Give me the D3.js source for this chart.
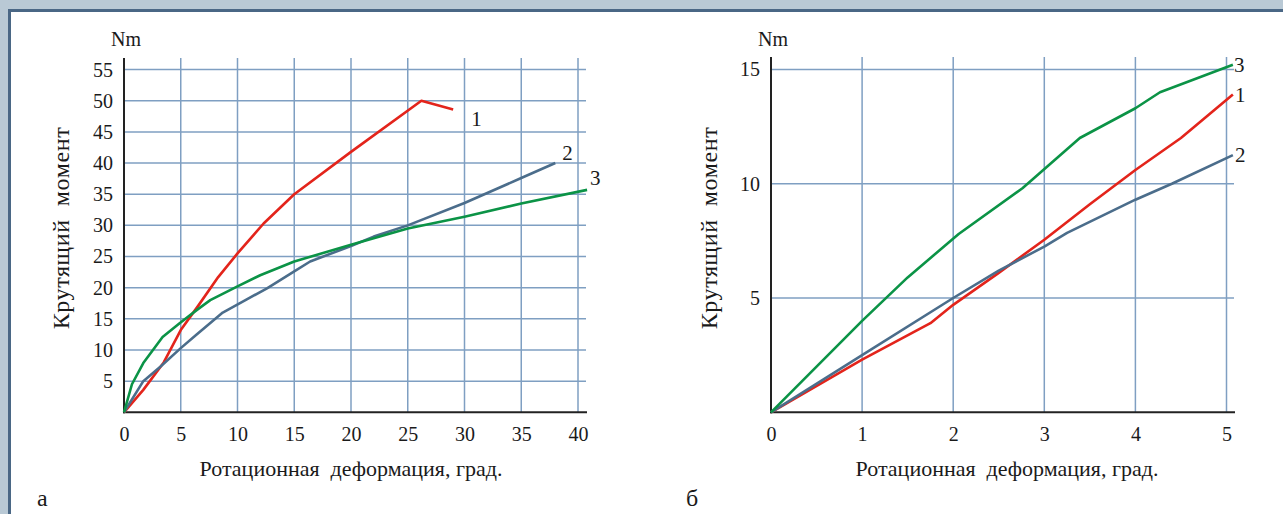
<!DOCTYPE html>
<html><head><meta charset="utf-8">
<script src="https://cdn.jsdelivr.net/npm/d3@7"></script>
<style>
html,body{margin:0;padding:0;background:#b9c9d5;}
svg{display:block;}
text{font-family:"Liberation Serif","Times New Roman",serif;fill:#1a1a1a;}
</style></head>
<body>
<svg id="c" width="1283" height="514"></svg>
<script>
// ---- data ----
const xTicksA = [0,5,10,15,20,25,30,35,40];
const yTicksA = [5,10,15,20,25,30,35,40,45,50,55];
const xTicksB = [0,1,2,3,4,5];
const yTicksB = [5,10,15];
const seriesNames = ["1","2","3"];
// Chart а
const a1 = [[0,0],[1.7,3.6],[3.5,8],[5,13.2],[6.5,17],[8.3,21.7],[10,25.5],[12.3,30.3],[15,35],[20,41.8],[26.2,50],[29,48.6]];
const a2 = [[0,0],[1.7,5],[3.2,7.3],[5,10.3],[6.4,12.5],[8.7,16],[10.5,17.8],[12.6,19.9],[15,22.6],[16.4,24.2],[20,26.7],[22,28.2],[25,30],[30,33.6],[35,37.6],[38,40]];
const a3 = [[0,0],[0.7,4.5],[1.7,7.9],[3.4,12.1],[4.9,14.3],[6.4,16.4],[7.6,18],[10,20.2],[12,22],[15,24.2],[20,26.9],[25,29.5],[30,31.4],[35,33.5],[40.8,35.7]];
// Chart б
const b1 = [[0,0],[1,2.3],[1.75,3.9],[2,4.7],[2.5,6.1],[3,7.55],[3.5,9.1],[4,10.6],[4.5,12],[5.07,13.9]];
const b2 = [[0,0],[1,2.5],[2,5],[2.5,6.2],[3,7.25],[3.25,7.85],[4,9.3],[4.4,10],[5.07,11.25]];
const b3 = [[0,0],[0.5,2],[1,4],[1.5,5.9],[2.06,7.8],[2.76,9.8],[3.39,12],[4,13.3],[4.27,14],[5.07,15.2]];

const xTitle = "Ротационная  деформация, град.";
const yTitle = "Крутящий  момент";
const unit = "Nm";
const panelLabels = ["а","б"];

const colors = {"1":"#e3241b","2":"#4b6d8b","3":"#0b9346"};
const gridColor = "#7f9fc2";
const numFont = "Noto Serif";

const svg = d3.select("#c");
svg.append("rect").attr("x",9.5).attr("y",10.5).attr("width",1290).attr("height",520)
  .attr("fill","#fff").attr("stroke","#4a6785").attr("stroke-width",3);

function chart(opt){
  const g = svg.append("g");
  const x = d3.scaleLinear().domain(opt.xDom).range(opt.xRange);
  const y = d3.scaleLinear().domain(opt.yDom).range(opt.yRange);
  const top = opt.top, right = opt.right;
  g.selectAll(".vg").data(opt.xTicks.filter(d=>d>0)).join("line")
    .attr("x1",d=>x(d)).attr("x2",d=>x(d)).attr("y1",top).attr("y2",y(0))
    .attr("stroke",gridColor).attr("stroke-width",1.5);
  g.selectAll(".hg").data(opt.yTicks).join("line")
    .attr("x1",x(0)).attr("x2",right).attr("y1",d=>y(d)).attr("y2",d=>y(d))
    .attr("stroke",gridColor).attr("stroke-width",1.5);
  const ax = d3.axisBottom(x).tickValues(opt.xTicks).tickSize(0).tickPadding(15).tickFormat(d3.format("d"));
  const ay = d3.axisLeft(y).tickValues(opt.yTicks).tickSize(0).tickPadding(11).tickFormat(d3.format("d"));
  const gx = g.append("g").attr("transform",`translate(0,${y(0)})`).call(ax);
  const gy = g.append("g").attr("transform",`translate(${x(0)},0)`).call(ay);
  [gx,gy].forEach(s=>{s.select(".domain").remove();
    s.attr("font-family",numFont).attr("font-size",20);
    s.selectAll("text").attr("font-family",numFont).attr("font-size",20).attr("fill","#1a1a1a");});
  g.append("line").attr("x1",x(0)).attr("x2",x(0)).attr("y1",top).attr("y2",y(0)+1)
    .attr("stroke","#222").attr("stroke-width",2);
  g.append("line").attr("x1",x(0)-1).attr("x2",right+1).attr("y1",y(0)).attr("y2",y(0))
    .attr("stroke","#222").attr("stroke-width",2);
  const line = d3.line().x(d=>x(d[0])).y(d=>y(d[1]));
  opt.series.forEach((s,i)=>{
    const name = seriesNames[i];
    g.append("path").datum(s).attr("d",line).attr("fill","none")
      .attr("stroke",colors[name]).attr("stroke-width",2.6).attr("stroke-linejoin","round");
    const last = s[s.length-1];
    const off = opt.labelOff[i];
    g.append("text").attr("x",x(last[0])+off[0]).attr("y",y(last[1])+off[1])
      .attr("font-family",numFont).attr("font-size",21).attr("text-anchor","start")
      .attr("dominant-baseline","central").text(name);
  });
  g.append("text").attr("x",x(0)-13).attr("y",46).attr("font-family",numFont).attr("font-size",20).text(unit);
  g.append("text").attr("x",opt.xTitleX).attr("y",476).attr("font-size",22)
    .attr("text-anchor","middle").attr("xml:space","preserve").style("white-space","pre").text(xTitle);
  g.append("text").attr("transform",`translate(${opt.yTitleX},228) rotate(-90)`).attr("font-size",24)
    .attr("letter-spacing",0.6)
    .attr("text-anchor","middle").attr("xml:space","preserve").style("white-space","pre").text(yTitle);
  g.append("text").attr("x",opt.panelX).attr("y",506).attr("font-size",24).text(opt.panel);
}

chart({xDom:[0,40],xRange:[124,578],yDom:[0,55],yRange:[412.3,69.6],top:58,right:586,
  xTicks:xTicksA,yTicks:yTicksA,series:[a1,a2,a3],
  labelOff:[[18,10],[7,-10],[3,-12]],xTitleX:351,yTitleX:69,panelX:37,panel:panelLabels[0]});
chart({xDom:[0,5],xRange:[771,1226.5],yDom:[0,15],yRange:[412.3,69.4],top:57,right:1234,
  xTicks:xTicksB,yTicks:yTicksB,series:[b1,b2,b3],
  labelOff:[[2,0],[2,0],[1,0]],xTitleX:1007,yTitleX:717,panelX:686,panel:panelLabels[1]});
</script>
</body></html>
